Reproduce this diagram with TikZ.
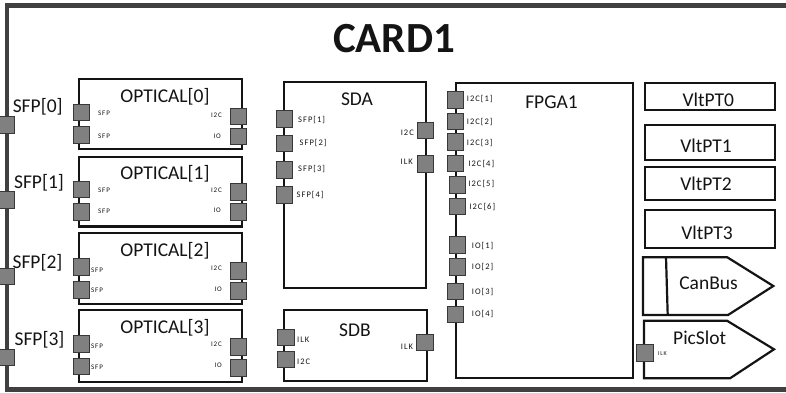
\documentclass[tikz,border=0pt]{standalone}
\usepackage{fontspec}
\setmainfont{Carlito}
\newfontfamily\tinyfont[LetterSpace=12]{Carlito}
\definecolor{cardline}{HTML}{404040}
\definecolor{portfill}{HTML}{808080}
\definecolor{portedge}{HTML}{383838}
\definecolor{ink}{HTML}{141414}
\tikzset{
  box/.style={draw=ink, line width=2.2pt, fill=white, inner sep=0pt},
  port/.style={draw=portedge, fill=portfill, line width=0.8pt, minimum width=16.5pt, minimum height=16.5pt, inner sep=0pt},
  ttl/.style={text=ink, font=\fontsize{19.5}{20}\selectfont, inner sep=0pt},
  plbl/.style={text=ink, font=\tinyfont\fontsize{8.5}{9}\selectfont, inner sep=0pt},
  olbl/.style={text=ink, font=\tinyfont\fontsize{7}{8}\selectfont, inner sep=0pt},
  ilbl/.style={text=ink, font=\tinyfont\fontsize{6}{7}\selectfont, inner sep=0pt},
}
\begin{document}
\begin{tikzpicture}[x=1pt,y=-1pt]
\useasboundingbox (0,0) rectangle (786,392);
\clip (0,0) rectangle (786,392);
% card outline
\draw[cardline, line width=4.8pt] (7,5.5) rectangle (820,389.3);
\node[text=ink, font=\fontsize{43}{43}\selectfont\bfseries, inner sep=0pt] (card) at (394,39) {CARD1};

% left SFP ports on the card
\node[port] (csfp0) at (6.5,125) {};
\node[port] (csfp1) at (6.5,200) {};
\node[port] (csfp2) at (6.5,276.5) {};
\node[port] (csfp3) at (6.5,357.5) {};
\node[ttl] (lsfp0) at (37.7,107) {SFP[0]};
\node[ttl] (lsfp1) at (39,183) {SFP[1]};
\node[ttl] (lsfp2) at (37.5,262.5) {SFP[2]};
\node[ttl] (lsfp3) at (39.5,340) {SFP[3]};

% OPTICAL boxes
\node[box, minimum width=163pt, minimum height=70.3pt] (opt0) at (160.5,114.2) {};
\node[box, minimum width=163pt, minimum height=69.5pt] (opt1) at (160.5,191.75) {};
\node[box, minimum width=163pt, minimum height=71pt] (opt2) at (160.5,268.5) {};
\node[box, minimum width=163pt, minimum height=72pt] (opt3) at (160.5,346) {};
\node[ttl] (topt0) at (165,97) {OPTICAL[0]};
\node[ttl] (topt1) at (165,173.5) {OPTICAL[1]};
\node[ttl] (topt2) at (165,251) {OPTICAL[2]};
\node[ttl] (topt3) at (165,327.5) {OPTICAL[3]};

% OPTICAL ports
\node[port] (o0a) at (81.5,112.5) {};
\node[port] (o0b) at (81.5,135) {};
\node[port] (o0c) at (238.5,116.5) {};
\node[port] (o0d) at (238.5,136.5) {};
\node[port] (o1a) at (81.5,189.5) {};
\node[port] (o1b) at (81.5,212) {};
\node[port] (o1c) at (238.5,192) {};
\node[port] (o1d) at (238.5,212) {};
\node[port] (o2a) at (81.5,267) {};
\node[port] (o2b) at (81.5,290) {};
\node[port] (o2c) at (238.5,270.7) {};
\node[port] (o2d) at (238.5,290.7) {};
\node[port] (o3a) at (81.5,343.7) {};
\node[port] (o3b) at (81.5,366.5) {};
\node[port] (o3c) at (238.5,347) {};
\node[port] (o3d) at (238.5,367.7) {};

\node[olbl, anchor=west] (lo0a) at (98,113.5) {SFP};
\node[olbl, anchor=west] (lo0b) at (98,136) {SFP};
\node[olbl, anchor=east] (lo0c) at (222,115.5) {I2C};
\node[olbl, anchor=east] (lo0d) at (221,136) {IO};
\node[olbl, anchor=west] (lo1a) at (98,190.7) {SFP};
\node[olbl, anchor=west] (lo1b) at (98,211.7) {SFP};
\node[olbl, anchor=east] (lo1c) at (222,190) {I2C};
\node[olbl, anchor=east] (lo1d) at (221,210.7) {IO};
\node[olbl, anchor=west] (lo2a) at (91,270) {SFP};
\node[olbl, anchor=west] (lo2b) at (91,290) {SFP};
\node[olbl, anchor=east] (lo2c) at (222,268.3) {I2C};
\node[olbl, anchor=east] (lo2d) at (222,289) {IO};
\node[olbl, anchor=west] (lo3a) at (91,346.7) {SFP};
\node[olbl, anchor=west] (lo3b) at (91,367.3) {SFP};
\node[olbl, anchor=east] (lo3c) at (222,344.3) {I2C};
\node[olbl, anchor=east] (lo3d) at (222,365.7) {IO};

% SDA
\node[box, minimum width=142pt, minimum height=206pt] (sda) at (355,185) {};
\node[ttl] (tsda) at (357,99) {SDA};
\node[port] (sdap1) at (284.5,119) {};
\node[port] (sdap2) at (284.5,143.5) {};
\node[port] (sdap3) at (284.5,170) {};
\node[port] (sdap4) at (284.5,195) {};
\node[port] (sdai2c) at (425.5,130.5) {};
\node[port] (sdailk) at (425.5,164) {};
\node[plbl, anchor=west] (lsda1) at (298,120) {SFP[1]};
\node[plbl, anchor=west] (lsda2) at (299.5,142.7) {SFP[2]};
\node[plbl, anchor=west] (lsda3) at (298,169.3) {SFP[3]};
\node[plbl, anchor=west] (lsda4) at (296.5,195) {SFP[4]};
\node[plbl, anchor=east] (lsdai2c) at (414,132.7) {I2C};
\node[plbl, anchor=east] (lsdailk) at (413,161.7) {ILK};

% SDB
\node[box, minimum width=143pt, minimum height=71pt] (sdb) at (355.5,345.5) {};
\node[ttl] (tsdb) at (355,330) {SDB};
\node[port] (sdbilk) at (285.7,337.5) {};
\node[port] (sdbi2c) at (285.7,359.5) {};
\node[port] (sdbilkr) at (425,342.5) {};
\node[plbl, anchor=west] (lsdbilk) at (297,339.3) {ILK};
\node[plbl, anchor=west] (lsdbi2c) at (297,361.7) {I2C};
\node[plbl, anchor=east] (lsdbilkr) at (413.3,346.7) {ILK};

% FPGA1
\node[box, minimum width=177pt, minimum height=295pt] (fpga) at (544.5,230.5) {};
\node[ttl] (tfpga) at (551.5,102.5) {FPGA1};
\node[port] (fi1) at (455.5,100) {};
\node[port] (fi2) at (455.5,121.5) {};
\node[port] (fi3) at (455.5,142) {};
\node[port] (fi4) at (455.5,163.5) {};
\node[port] (fi5) at (457.5,185) {};
\node[port] (fi6) at (457.5,206.5) {};
\node[port] (fo1) at (457.5,245) {};
\node[port] (fo2) at (457.5,267) {};
\node[port] (fo3) at (455.5,291.5) {};
\node[port] (fo4) at (455.5,314.5) {};
\node[plbl, anchor=west] (lfi1) at (466.7,99.3) {I2C[1]};
\node[plbl, anchor=west] (lfi2) at (466.7,121.7) {I2C[2]};
\node[plbl, anchor=west] (lfi3) at (466.7,142.7) {I2C[3]};
\node[plbl, anchor=west] (lfi4) at (468.3,164.3) {I2C[4]};
\node[plbl, anchor=west] (lfi5) at (468.3,184.3) {I2C[5]};
\node[plbl, anchor=west] (lfi6) at (469.3,206.7) {I2C[6]};
\node[plbl, anchor=west] (lfo1) at (471.7,246) {IO[1]};
\node[plbl, anchor=west] (lfo2) at (471.7,267.3) {IO[2]};
\node[plbl, anchor=west] (lfo3) at (471.7,291.7) {IO[3]};
\node[plbl, anchor=west] (lfo4) at (471.7,314.3) {IO[4]};

% VltPT boxes
\node[box, minimum width=130pt, minimum height=27pt] (v0) at (710,96.5) {};
\node[box, minimum width=130pt, minimum height=35pt] (v1) at (710,142.5) {};
\node[box, minimum width=130pt, minimum height=32.7pt] (v2) at (710,183.7) {};
\node[box, minimum width=130pt, minimum height=38.3pt] (v3) at (710,229.2) {};
\node[ttl] (tv0) at (708.3,99.5) {VltPT0};
\node[ttl] (tv1) at (706,145.5) {VltPT1};
\node[ttl] (tv2) at (706,183.5) {VltPT2};
\node[ttl] (tv3) at (707,233) {VltPT3};

% CanBus
\draw[box] (643,257.3) -- (727.3,257.3) -- (773.3,286) -- (728,315) -- (643,315) -- cycle;
\draw[draw=ink, line width=2.2pt] (666,257.3) -- (667.7,315);
\node[ttl] (tcan) at (708.5,283.5) {CanBus};

% PicSlot
\draw[box] (644,320.7) -- (727,320.7) -- (774,349.3) -- (730,378.3) -- (644,378.3) -- cycle;
\node[ttl] (tpic) at (699.7,337.5) {PicSlot};
\node[port] (picilk) at (645,353) {};
\node[ilbl, anchor=west] (lpicilk) at (658,354) {ILK};
\end{tikzpicture}
\end{document}
